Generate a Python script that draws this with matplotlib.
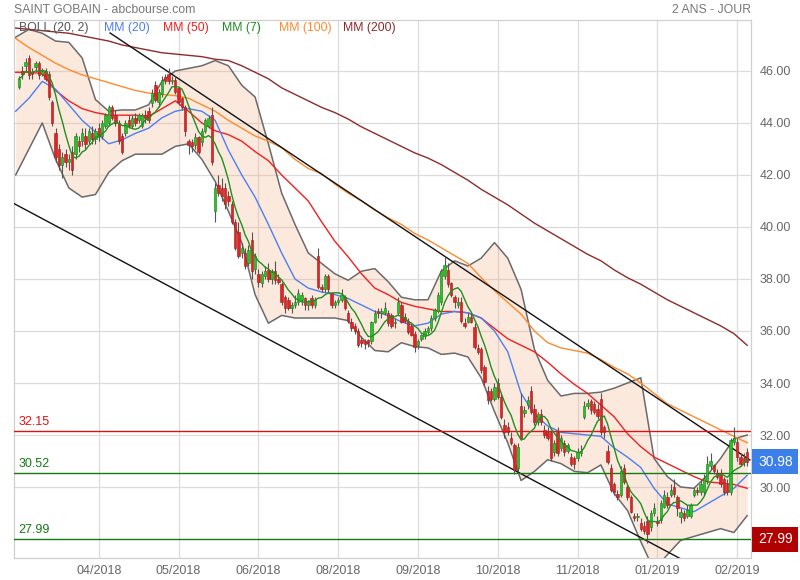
#!/usr/bin/env python

import numpy
import pandas
import matplotlib
matplotlib.use("Agg")
from matplotlib import pyplot


# Data (daily candles, bar index = trading day)

opens = [
    45.4, 46.0, 46.2, 46.5, 45.95, 46.15, 46.3, 45.9, 46.0, 45.9,
    44.8, 43.6, 43.0, 42.4, 42.8, 42.5, 42.9, 42.8, 43.3, 43.3,
    43.5, 43.3, 43.6, 43.4, 43.8, 43.5, 43.9, 44.0, 44.6, 44.3,
    44.0, 43.5, 43.6, 44.1, 43.9, 44.2, 44.1, 43.9, 44.3, 44.45,
    44.75, 45.45, 44.8, 45.1, 45.75, 45.9, 45.6, 45.65, 45.35, 44.95,
    44.6, 43.3, 43.25, 43.15, 43.45, 43.25, 43.7, 43.9, 44.3, 40.6,
    41.6, 41.5, 41.5, 41.2, 40.9, 40.2, 39.8, 39.0, 39.0, 38.6,
    39.5, 38.4, 38.2, 37.85, 38.1, 38.35, 38.0, 38.3, 38.0, 37.8,
    37.3, 37.2, 36.9, 37.0, 37.1, 37.2, 37.25, 37.0, 37.25, 37.0,
    38.9, 37.7, 37.6, 38.1, 37.45, 37.0, 37.1, 37.2, 37.3, 36.7,
    36.35, 36.2, 36.0, 35.65, 35.6, 35.65, 35.6, 36.35, 36.75, 36.7,
    36.7, 36.7, 36.6, 36.3, 36.7, 37.0, 36.55, 36.4, 36.2, 35.9,
    35.45, 35.7, 35.8, 35.95, 36.1, 36.5, 36.75, 37.1, 38.1, 38.35,
    37.85, 37.3, 37.0, 37.1, 36.3, 36.35, 36.55, 36.15, 35.35, 35.3,
    34.6, 33.7, 33.7, 33.4, 34.0, 33.45, 32.4, 32.3, 31.9, 31.6,
    30.75, 33.1, 32.85, 33.15, 33.7, 33.0, 32.5, 32.8, 32.2, 32.1,
    32.1, 31.35, 32.1, 31.5, 31.7, 31.4, 31.15, 31.1, 31.1, 31.3,
    32.7, 33.1, 33.3, 33.2, 33.0, 33.4, 32.3, 31.4, 30.75, 30.1,
    29.75, 29.7, 30.75, 30.0, 29.6, 28.9, 28.85, 28.6, 28.5, 28.7,
    28.45, 29.0, 28.7, 28.75, 29.25, 29.6, 29.7, 30.0, 29.6, 28.85,
    29.0, 28.9, 28.9, 29.7, 29.9, 29.8, 29.8, 30.25, 30.8, 30.85,
    30.55, 30.55, 30.3, 30.1, 29.8, 31.75, 31.75, 31.15, 31.1, 31.35,
]
highs = [
    45.8, 46.2, 46.5, 46.6, 46.1, 46.4, 46.4, 46.1, 46.1, 46.0,
    44.9, 43.8, 43.2, 42.9, 43.0, 42.8, 43.1, 43.6, 43.5, 43.8,
    43.8, 43.8, 43.9, 43.8, 44.0, 44.1, 44.4, 44.7, 44.7, 44.5,
    44.1, 43.6, 44.1, 44.3, 44.3, 44.4, 44.4, 44.4, 44.5, 44.6,
    45.3, 45.6, 45.3, 45.8, 45.9, 46.1, 45.8, 45.8, 45.4, 45.0,
    44.7, 43.4, 43.4, 43.6, 43.5, 43.8, 44.2, 44.3, 44.6, 41.7,
    42.0, 41.9, 41.7, 41.4, 41.0, 40.3, 40.2, 39.4, 39.2, 39.3,
    39.8, 39.0, 38.4, 38.3, 38.5, 38.6, 38.4, 38.7, 38.2, 37.9,
    37.4, 37.3, 37.1, 37.4, 37.6, 37.5, 37.3, 37.2, 37.4, 37.3,
    39.2, 37.8, 38.2, 38.2, 37.5, 37.2, 37.3, 37.6, 37.4, 36.8,
    36.5, 36.3, 36.1, 35.8, 35.7, 35.7, 36.4, 36.8, 36.9, 36.9,
    37.1, 36.8, 36.7, 36.5, 37.3, 37.1, 36.7, 36.5, 36.3, 36.0,
    35.7, 35.9, 36.1, 36.2, 36.6, 36.9, 37.5, 38.4, 38.9, 38.6,
    37.9, 37.4, 37.3, 37.3, 36.5, 36.7, 36.7, 36.3, 35.5, 35.4,
    34.7, 33.9, 33.8, 34.0, 34.2, 33.6, 32.6, 32.5, 32.1, 31.7,
    31.7, 33.6, 33.1, 33.5, 33.9, 33.2, 32.9, 33.0, 32.4, 32.3,
    32.2, 31.8, 32.3, 32.0, 31.8, 31.7, 31.3, 31.2, 31.5, 31.6,
    33.3, 33.4, 33.4, 33.3, 33.2, 33.6, 32.4, 31.6, 30.9, 30.2,
    29.9, 30.8, 30.9, 30.1, 29.7, 29.0, 29.0, 28.8, 28.7, 28.9,
    29.1, 29.4, 28.9, 29.5, 29.9, 29.8, 30.1, 30.3, 29.7, 29.2,
    29.1, 29.3, 29.4, 30.0, 30.0, 30.3, 30.5, 31.2, 31.3, 30.9,
    30.7, 30.7, 30.4, 30.3, 31.9, 32.3, 31.9, 31.3, 31.3, 31.5,
]
lows = [
    45.3, 45.7, 46.0, 45.7, 45.7, 46.0, 45.7, 45.8, 45.6, 44.9,
    43.9, 42.5, 42.2, 41.9, 42.3, 42.2, 42.0, 42.6, 42.9, 43.1,
    43.0, 43.2, 43.2, 43.2, 43.3, 43.4, 43.8, 43.9, 44.1, 43.9,
    43.2, 42.8, 43.5, 43.8, 43.8, 43.9, 44.0, 43.8, 44.0, 44.0,
    44.6, 44.8, 44.6, 45.0, 45.5, 45.5, 45.5, 45.1, 44.7, 44.5,
    43.5, 42.8, 42.9, 43.0, 42.8, 43.1, 43.6, 43.8, 42.4, 40.2,
    41.2, 41.0, 40.7, 40.8, 40.1, 39.1, 38.8, 38.8, 38.4, 38.5,
    38.0, 38.2, 37.7, 37.7, 38.0, 37.9, 37.8, 37.8, 37.8, 37.0,
    36.7, 36.8, 36.7, 36.9, 37.0, 37.0, 36.8, 36.8, 36.9, 36.9,
    37.6, 37.5, 37.5, 37.5, 36.9, 36.9, 37.0, 37.1, 36.8, 36.3,
    36.0, 35.9, 35.4, 35.4, 35.3, 35.4, 35.5, 36.3, 36.5, 36.5,
    36.6, 36.2, 36.1, 36.1, 36.6, 36.3, 36.3, 35.9, 35.8, 35.2,
    35.3, 35.6, 35.7, 35.9, 36.0, 36.4, 36.7, 37.0, 38.0, 37.7,
    37.3, 36.9, 36.9, 36.3, 36.1, 36.3, 36.3, 35.3, 35.1, 34.4,
    33.9, 33.2, 33.3, 33.3, 33.4, 32.6, 31.9, 32.0, 31.6, 30.5,
    30.6, 31.8, 32.7, 33.0, 32.8, 32.4, 32.4, 32.4, 31.9, 31.8,
    31.0, 31.2, 31.2, 31.4, 31.2, 31.3, 30.8, 30.7, 31.0, 31.2,
    32.6, 33.0, 32.8, 32.8, 32.6, 32.0, 31.9, 30.9, 29.8, 29.7,
    29.5, 29.6, 30.1, 29.5, 29.0, 28.7, 28.7, 28.3, 28.2, 27.85,
    28.3, 28.9, 28.5, 28.6, 29.2, 29.2, 29.6, 29.6, 28.9, 28.6,
    28.7, 28.8, 28.8, 29.6, 29.7, 29.7, 29.7, 30.1, 30.7, 30.5,
    30.3, 30.0, 29.7, 29.7, 29.7, 31.6, 31.0, 30.8, 30.8, 30.8,
]
closes = [
    45.7, 45.9, 46.35, 45.85, 45.9, 46.3, 45.85, 46.0, 45.7, 45.0,
    44.0, 42.7, 42.4, 42.7, 42.5, 42.6, 42.2, 43.5, 43.1, 43.6,
    43.2, 43.7, 43.4, 43.7, 43.5, 44.0, 44.3, 44.6, 44.2, 44.0,
    43.3, 42.9, 44.0, 43.9, 44.2, 44.0, 44.3, 44.3, 44.2, 44.1,
    45.15, 44.9, 45.2, 45.65, 45.6, 45.6, 45.65, 45.2, 44.8, 44.6,
    43.7, 43.15, 43.1, 43.45, 42.9, 43.7, 44.1, 44.2, 42.5, 41.5,
    41.3, 41.2, 40.9, 41.0, 40.2, 39.2, 38.9, 39.2, 38.5, 39.1,
    38.3, 38.9, 37.9, 38.2, 38.3, 38.0, 38.3, 37.95, 37.9, 37.1,
    36.9, 36.9, 37.0, 37.1, 37.45, 37.4, 37.0, 37.1, 37.0, 37.2,
    37.7, 37.6, 38.1, 37.6, 37.0, 37.1, 37.2, 37.4, 36.9, 36.4,
    36.1, 36.0, 35.45, 35.55, 35.5, 35.55, 36.35, 36.7, 36.7, 36.75,
    36.9, 36.3, 36.2, 36.3, 37.1, 36.35, 36.4, 35.95, 35.85, 35.4,
    35.6, 35.85, 36.0, 36.1, 36.5, 36.8, 37.4, 38.3, 38.55, 37.8,
    37.4, 37.1, 37.1, 36.4, 36.2, 36.55, 36.35, 35.4, 35.2, 34.5,
    34.05, 33.35, 33.4, 33.85, 33.45, 32.7, 32.1, 32.1, 31.7, 30.65,
    31.55, 31.9, 32.95, 33.35, 32.9, 32.5, 32.8, 32.5, 32.0, 31.9,
    31.1, 31.7, 31.3, 31.9, 31.35, 31.6, 30.9, 30.9, 31.35, 31.4,
    33.1, 33.25, 32.95, 32.9, 32.75, 32.1, 32.1, 30.95, 29.9, 29.8,
    29.6, 30.6, 30.2, 29.6, 29.05, 28.8, 28.85, 28.4, 28.3, 28.2,
    29.0, 29.2, 28.6, 29.4, 29.7, 29.3, 29.9, 29.75, 29.2, 29.05,
    28.8, 29.1, 29.3, 29.9, 29.8, 30.1, 30.35, 30.9, 31.0, 30.6,
    30.4, 30.1, 29.8, 29.8, 31.8, 31.9, 31.15, 30.9, 30.95, 30.98,
]

# indicators read every 4 bars
ind_idx = numpy.arange(-1, 220, 4)
boll_up = [
    47.3, 47.6, 47.45, 47.15, 47.1, 46.5, 44.9, 44.45, 44.5, 44.5,
    44.7, 45.6, 46.0, 46.1, 46.2, 46.4, 46.2, 45.45, 45.0, 43.2,
    41.3, 40.1, 39.0, 38.6, 38.2, 37.95, 38.3, 38.4, 37.9, 37.3,
    37.2, 37.2, 38.3, 38.7, 38.5, 38.8, 39.4, 38.8, 37.6, 35.3,
    34.1, 33.5, 33.6, 33.6, 33.65, 33.8, 34.0, 34.2, 31.1, 30.4,
    30.0, 29.95, 30.45, 31.1, 31.85, 32.0,
]
boll_low = [
    42.0, 43.0, 44.0, 42.6, 41.5, 41.15, 41.25, 42.1, 42.55, 42.8,
    42.8, 42.8, 43.1, 43.2, 42.6, 41.75, 40.6, 39.4, 37.4, 36.3,
    36.6, 36.5, 36.5, 36.5, 36.5, 36.4, 35.75, 35.25, 35.2, 35.55,
    35.4, 35.35, 35.1, 35.15, 35.0, 34.2, 32.9, 31.7, 30.25, 30.6,
    31.05, 30.9, 30.6, 30.55, 30.85, 29.75, 29.1, 27.9, 26.8, 27.4,
    27.95, 28.1, 28.25, 28.4, 28.25, 28.9,
]
mm20 = [
    44.45, 44.95, 45.6, 45.3, 44.7, 44.1, 43.65, 43.2, 43.35, 43.6,
    43.8, 44.2, 44.45, 44.55, 44.45, 44.1, 42.95, 42.0, 41.15, 40.1,
    39.0, 38.0, 37.65, 37.5, 37.4, 37.25, 37.0, 36.75, 36.6, 36.35,
    36.2, 36.3, 36.65, 36.75, 36.7, 36.5, 36.0, 35.2, 33.6, 32.8,
    32.35, 32.1, 32.05, 32.0, 31.95, 31.5, 31.15, 30.75, 29.95, 29.35,
    29.2, 29.05, 29.35, 29.65, 29.95, 30.45,
]
mm50 = [
    45.95, 45.95, 45.9, 45.25, 44.85, 44.55, 44.4, 44.3, 44.3, 44.3,
    44.25, 44.55, 44.85, 44.45, 44.0, 43.7, 43.55, 43.3, 42.9, 42.55,
    42.0, 41.5, 41.0, 40.2, 39.45, 38.85, 38.2, 37.65, 37.4, 37.1,
    36.95, 36.85, 36.75, 36.75, 36.7, 36.5, 36.1, 35.7, 35.45, 35.2,
    34.8, 34.35, 33.95, 33.6, 33.15, 32.7, 32.05, 31.55, 31.15, 30.9,
    30.65, 30.4, 30.2, 30.15, 30.1, 29.95,
]
mm100 = [
    47.25, 46.9, 46.6, 46.3, 46.05, 45.85, 45.7, 45.55, 45.4, 45.25,
    45.15, 45.1, 45.05, 44.95, 44.7, 44.45, 44.1, 43.8, 43.5, 43.3,
    43.05, 42.6, 42.25, 42.05, 41.65, 41.3, 41.0, 40.65, 40.35, 40.1,
    39.75, 39.5, 39.2, 38.9, 38.6, 38.05, 37.55, 37.1, 36.65, 36.0,
    35.55, 35.35, 35.25, 35.15, 34.9, 34.6, 34.35, 34.0, 33.6, 33.2,
    32.95, 32.7, 32.45, 32.2, 31.95, 31.7,
]
mm200 = [
    47.65, 47.6, 47.55, 47.5, 47.45, 47.35, 47.25, 47.15, 47.0, 46.9,
    46.8, 46.7, 46.65, 46.6, 46.55, 46.45, 46.4, 46.2, 45.95, 45.7,
    45.35, 45.1, 44.85, 44.6, 44.4, 44.15, 43.85, 43.6, 43.35, 43.1,
    42.85, 42.65, 42.4, 42.1, 41.8, 41.45, 41.15, 40.85, 40.5, 40.15,
    39.85, 39.55, 39.25, 38.95, 38.7, 38.35, 38.05, 37.8, 37.5, 37.2,
    36.95, 36.7, 36.45, 36.2, 35.9, 35.45,
]

# trend lines: (bar index, price) end points
trend_high = ([27.4, 219.8], [47.46, 31.04])
trend_low = ([-1.5, 200.0], [40.9, 27.17])

# horizontal levels
level_res = 32.15
level_sup1 = 30.52
level_sup2 = 27.99
last_price = 30.98

tick_labels = ["04/2018", "05/2018", "06/2018", "08/2018", "09/2018",
               "10/2018", "11/2018", "01/2019", "02/2019"]
tick_step = 24
price_ticks = [30, 32, 34, 36, 38, 40, 42, 44, 46]

# Plot

pyplot.rcParams["font.family"] = ["Liberation Sans", "DejaVu Sans"]

GREY = "#777777"
C_UP, C_UP_EDGE = "#24c424", "#1a7d1a"
C_DN, C_DN_EDGE = "#e32222", "#9e1a1a"

fig = pyplot.figure(figsize=(8, 5.8), dpi=100)
ax = fig.add_axes([14 / 800, 1 - 558 / 580, 737 / 800, 538 / 580])

n = len(closes)
x = numpy.arange(n)
o = numpy.array(opens)
c = numpy.array(closes)
h = numpy.array(highs)
lo = numpy.array(lows)

ax.set_xlim(-1.5, 220.15)
ax.set_ylim(27.27, 47.96)

# grid
ticks_x = [tick_step * (k + 1) for k in range(len(tick_labels))]
ax.set_xticks(ticks_x)
ax.set_xticklabels(tick_labels)
ax.set_yticks(price_ticks)
ax.set_yticklabels([f"{p:.2f}" for p in price_ticks])
ax.grid(True, color="#dcdcdc", lw=0.9, zorder=0)
ax.set_axisbelow(True)
ax.yaxis.tick_right()
ax.tick_params(axis="both", length=0, colors="#666666", labelsize=9)
ax.tick_params(axis="y", pad=6)
ax.tick_params(axis="x", pad=5)
for s in ax.spines.values():
    s.set_color("#d0d0d0")
    s.set_linewidth(0.9)

# bollinger band
ax.fill_between(ind_idx, boll_low, boll_up, color="#f5a878", alpha=0.25, lw=0, zorder=1)
ax.plot(ind_idx, boll_up, color="#6a6a6a", lw=1.1, zorder=2)
ax.plot(ind_idx, boll_low, color="#6a6a6a", lw=1.1, zorder=2)

# moving averages
mm7 = pandas.Series(closes).rolling(7, min_periods=1).mean()
ax.plot(ind_idx, mm200, color="#8e2b2b", lw=1.0, zorder=3)
ax.plot(ind_idx, mm100, color="#ff8a2e", lw=1.0, zorder=3)
ax.plot(ind_idx, mm50, color="#f02020", lw=1.0, zorder=3)
ax.plot(ind_idx, mm20, color="#4d7ff0", lw=1.0, zorder=3)

# trend lines and levels
ax.plot(*trend_high, color="#111111", lw=1.0, zorder=3)
ax.plot(*trend_low, color="#111111", lw=1.0, zorder=3)
ax.axhline(level_res, color="#e01010", lw=1.0, zorder=3)
ax.axhline(level_sup1, color="#137a13", lw=1.0, zorder=3)
ax.axhline(level_sup2, color="#137a13", lw=1.0, zorder=3)

# candles
up = c >= o
ax.vlines(x, lo, h, color="#555555", lw=0.8, zorder=4)
body_lo = numpy.minimum(o, c)
body_h = numpy.maximum(numpy.abs(c - o), 0.04)
ax.bar(x[up], body_h[up], bottom=body_lo[up], width=0.72,
       color=C_UP, edgecolor=C_UP_EDGE, lw=0.4, zorder=5)
ax.bar(x[~up], body_h[~up], bottom=body_lo[~up], width=0.72,
       color=C_DN, edgecolor=C_DN_EDGE, lw=0.4, zorder=5)
ax.plot(x, mm7, color="#1f8f1f", lw=1.0, zorder=6)

# level labels at left
ytr = ax.get_yaxis_transform()
for val, col in [(level_res, "#e01010"), (level_sup1, "#137a13"), (level_sup2, "#137a13")]:
    ax.text(0.006, val + 0.12, f"{val:.2f}", transform=ytr, color=col,
            fontsize=9, va="bottom", ha="left", zorder=7)

# value boxes at right
for val, col in [(last_price, "#3d7fe8"), (level_sup2, "#b00000")]:
    ax.annotate(f"{val:.2f}", xy=(1, val), xycoords=ytr, xytext=(5, 0),
                textcoords="offset points", ha="left", va="center",
                color="white", fontsize=10, annotation_clip=False, zorder=10,
                bbox=dict(boxstyle="square,pad=0.4", fc=col, ec="none"))

# header texts
fig.text(14 / 800, 1 - 10 / 580, "SAINT GOBAIN - abcbourse.com", color=GREY,
         fontsize=8.8, va="center", ha="left")
fig.text(751 / 800, 1 - 10 / 580, "2 ANS - JOUR", color=GREY,
         fontsize=8.8, va="center", ha="right")

# legend row
legend = [("BOLL (20, 2)", "#555555", 19), ("MM (20)", "#4d7ff0", 104),
          ("MM (50)", "#f02020", 163), ("MM (7)", "#1f8f1f", 222),
          ("MM (100)", "#ff8a2e", 279), ("MM (200)", "#8e2b2b", 343)]
for label, col, px in legend:
    fig.text(px / 800, 1 - 28 / 580, label, color=col, fontsize=8.8,
             va="center", ha="left")

fig.savefig("out.png", dpi=100)
